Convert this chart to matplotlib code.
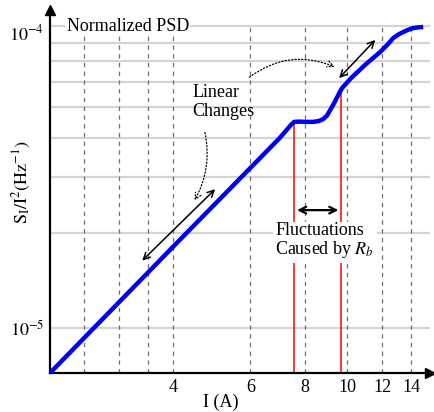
import matplotlib
matplotlib.use('Agg')
import matplotlib.pyplot as plt

plt.rcParams['font.family'] = ['Liberation Serif', 'DejaVu Serif']
plt.rcParams['mathtext.fontset'] = 'stix'

# normalized PSD curve (I in A, S_I/I^2 in 1/Hz)
current = [2.09, 4.0, 7.0, 7.45, 7.56, 7.75, 8.05, 8.35, 8.6, 8.8, 8.98, 9.14,
           9.32, 9.48, 9.62, 9.73, 10.2, 11.0, 11.88, 12.35, 12.73, 13.1,
           13.41, 13.75, 14.14, 14.5, 14.91]
psd = [7.2e-6, 1.81e-5, 3.99e-5, 4.41e-5, 4.49e-5, 4.50e-5, 4.49e-5, 4.49e-5,
       4.52e-5, 4.58e-5, 4.70e-5, 4.90e-5, 5.14e-5, 5.38e-5, 5.60e-5, 5.75e-5,
       6.18e-5, 6.82e-5, 7.47e-5, 7.88e-5, 8.27e-5, 8.50e-5, 8.64e-5, 8.78e-5,
       8.90e-5, 8.94e-5, 8.97e-5]

x_ticks = [4, 6, 8, 10, 12, 14]
x_grid = [2.5, 3, 3.5, 4, 6, 8, 10, 12, 14]
y_grid = [1e-5, 2e-5, 3e-5, 4e-5, 5e-5, 6e-5, 7e-5, 8e-5, 9e-5]

# Rb fluctuation boundaries
red_x = [7.56, 9.68]
red_top = [4.49e-5, 5.70e-5]

fig = plt.figure(figsize=(4.34, 4.12), dpi=100)
ax = fig.add_axes([50 / 434, 39 / 412, 380 / 434, 363 / 412])
ax.set_xscale('log')
ax.set_yscale('log')
ax.set_xlim(2.09, 15.45)
ax.set_ylim(7.2e-6, 1.015e-4)

for y in y_grid:
    ax.axhline(y, color='#d4d4d4', lw=1.6, zorder=0)
for x in x_grid:
    ax.plot([x, x], [7.2e-6, 9e-5], color='#707070', lw=0.9, ls=(0, (3.5, 3.5)), zorder=1)

for x, top in zip(red_x, red_top):
    ax.plot([x, x], [7.2e-6, top], color='red', lw=1.1, zorder=2)

ax.plot(current, psd, color='#0000ee', lw=3.2, solid_capstyle='butt', zorder=4)

# black double-headed arrows
arrow = dict(arrowstyle='<->', color='black', lw=1.1, mutation_scale=12)
ax.annotate('', xy=(3.36, 1.61e-5), xytext=(5.04, 2.79e-5), arrowprops=arrow, zorder=5)
ax.annotate('', xy=(9.48, 6.09e-5), xytext=(11.7, 8.28e-5), arrowprops=arrow, zorder=5)
ax.annotate('', xy=(7.56, 2.36e-5), xytext=(9.68, 2.36e-5),
            arrowprops=dict(arrowstyle='<->', color='black', lw=1.6, mutation_scale=12), zorder=5)

# dotted pointers from "Linear Changes"
dotted = dict(arrowstyle='->', color='black', lw=0.9, ls=':', mutation_scale=11)
ax.annotate('', xy=(4.44, 2.49e-5), xytext=(4.71, 4.24e-5),
            arrowprops=dict(dotted, connectionstyle='arc3,rad=-0.2'))
ax.annotate('', xy=(9.48, 6.65e-5), xytext=(5.90, 6.14e-5),
            arrowprops=dict(dotted, connectionstyle='arc3,rad=-0.3'))

ax.text(4.42, 5.2e-5, 'Linear\nChanges', fontsize=13, ha='left', va='center',
        linespacing=1.15, zorder=6)
ax.text(6.84, 1.88e-5, 'Fluctuations\nCaused by $R_b$', fontsize=13, ha='left', va='center',
        linespacing=1.0, zorder=6,
        bbox=dict(facecolor='white', edgecolor='none', pad=2))
ax.text(2.28, 9.0e-5, 'Normalized PSD', fontsize=13, ha='left', va='center', zorder=6,
        bbox=dict(facecolor='white', edgecolor='none', pad=1))

for s in ['top', 'right']:
    ax.spines[s].set_visible(False)
for s in ['left', 'bottom']:
    ax.spines[s].set_linewidth(1.6)
ax.plot(1, 0, '>k', ms=7, transform=ax.transAxes, clip_on=False)
ax.plot(0, 1, '^k', ms=7, transform=ax.transAxes, clip_on=False)

ax.set_xticks(x_ticks, [str(t) for t in x_ticks])
ax.xaxis.set_minor_locator(matplotlib.ticker.NullLocator())
ax.yaxis.set_minor_locator(matplotlib.ticker.NullLocator())
ax.set_yticks([1e-5, 8.6e-5], ['$10^{-5}$', '$10^{-4}$'])
ax.tick_params(length=0, labelsize=13, pad=4)

ax.set_xlabel('I (A)', fontsize=13)
ax.xaxis.set_label_coords(0.45, -0.058)
ax.set_ylabel(r'$\mathrm{S_I/I^2(Hz^{-1})}$', fontsize=13)
ax.yaxis.set_label_coords(-0.045, 0.525)

fig.savefig('out.png', dpi=100)
